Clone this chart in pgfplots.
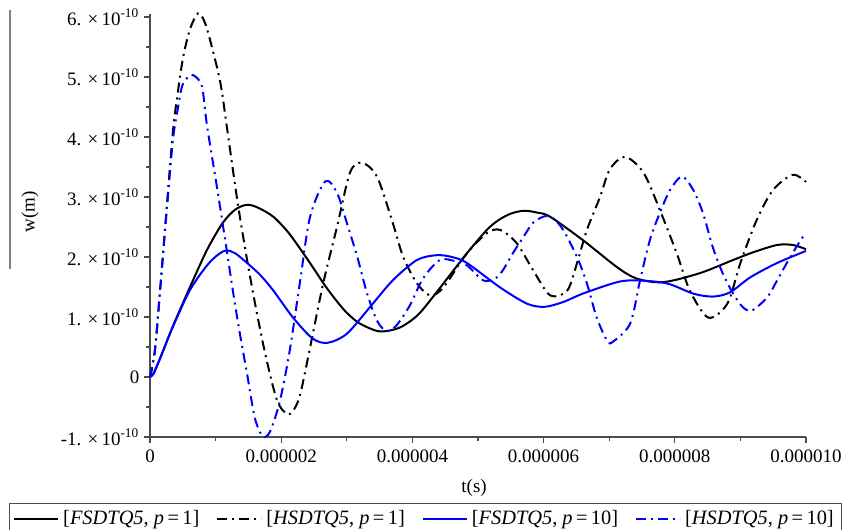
\documentclass[border=0pt]{standalone}
\usepackage{fontspec}
\setmainfont{Liberation Serif}
\usepackage{pgfplots}
\pgfplotsset{compat=1.18}
\definecolor{mblue}{RGB}{0,0,255}
\pgfplotstableread{
t v
0 0
0.05 0.05
0.15 0.30
0.35 0.85
0.61 1.50
0.87 2.12
1.11 2.57
1.30 2.79
1.48 2.87
1.65 2.82
1.88 2.67
2.10 2.42
2.30 2.12
2.50 1.80
2.67 1.52
2.85 1.26
3.00 1.07
3.20 0.89
3.50 0.76
3.80 0.82
4.07 1.02
4.31 1.33
4.83 2.06
5.18 2.50
5.45 2.70
5.69 2.77
5.90 2.74
6.10 2.67
6.60 2.28
7.12 1.83
7.42 1.64
7.82 1.58
8.38 1.73
8.89 1.95
9.20 2.08
9.56 2.20
9.80 2.20
10 2.13
}\fsdtA
\pgfplotstableread{
t v
0 0
0.03 0.15
0.08 0.5
0.15 1.4
0.26 2.9
0.35 4.1
0.41 4.63
0.50 5.30
0.61 5.80
0.73 6.06
0.82 5.95
0.91 5.64
1.07 4.92
1.17 4.18
1.33 2.95
1.48 1.95
1.63 1.06
1.78 0.27
1.94 -0.40
2.09 -0.62
2.19 -0.55
2.29 -0.29
2.44 0.49
2.64 1.56
2.85 2.50
3.05 3.41
3.23 3.57
3.46 3.34
3.70 2.57
3.86 2.00
4.07 1.56
4.27 1.36
4.47 1.49
4.83 2.06
5.14 2.40
5.34 2.45
5.59 2.23
5.84 1.78
6.10 1.36
6.36 1.44
6.51 1.90
6.66 2.45
6.86 3.00
7.01 3.46
7.24 3.67
7.52 3.41
7.77 2.79
8.03 2.06
8.23 1.44
8.51 0.99
8.80 1.22
9.00 1.90
9.25 2.62
9.50 3.12
9.80 3.37
10 3.25
}\hsdtA
\pgfplotstableread{
t v
0 0
0.05 0.05
0.15 0.30
0.35 0.84
0.61 1.45
0.87 1.86
1.05 2.05
1.17 2.11
1.30 2.06
1.48 1.90
1.68 1.70
1.88 1.44
2.18 0.99
2.48 0.64
2.71 0.57
3.00 0.72
3.35 1.16
3.70 1.61
4.07 1.95
4.37 2.03
4.60 2.00
4.83 1.90
5.34 1.49
5.75 1.22
6.02 1.17
6.30 1.25
6.60 1.39
7.12 1.58
7.42 1.61
7.88 1.56
8.28 1.39
8.58 1.34
8.84 1.41
9.15 1.66
9.56 1.90
10 2.10
}\fsdtB
\pgfplotstableread{
t v
0 0
0.03 0.15
0.08 0.49
0.15 1.39
0.26 2.84
0.35 3.96
0.43 4.51
0.49 4.85
0.58 5.00
0.66 5.03
0.79 4.85
0.87 4.18
1.02 3.17
1.17 2.11
1.27 1.39
1.37 0.72
1.48 0.05
1.60 -0.69
1.72 -0.99
1.83 -0.91
1.98 -0.40
2.13 0.44
2.29 1.61
2.44 2.67
2.67 3.26
2.85 3.07
3.00 2.57
3.16 2.00
3.31 1.39
3.46 0.94
3.60 0.77
3.75 0.85
3.96 1.19
4.16 1.64
4.42 1.95
4.65 1.93
4.83 1.86
5.08 1.61
5.26 1.64
5.38 1.78
5.53 2.06
5.69 2.33
5.84 2.57
6.02 2.68
6.14 2.65
6.30 2.45
6.51 2.00
6.66 1.56
6.81 0.99
6.97 0.60
7.06 0.59
7.32 0.89
7.47 1.61
7.62 2.28
7.77 2.73
7.93 3.12
8.11 3.34
8.28 3.12
8.43 2.73
8.58 2.16
8.73 1.73
8.89 1.39
9.04 1.16
9.18 1.11
9.41 1.33
9.56 1.61
9.76 2.00
9.95 2.33
10 2.38
}\hsdtB
\begin{document}
\fontsize{9.5}{11}\selectfont
\begin{tikzpicture}
\begin{axis}[
  scale only axis, width=328pt, height=211.5pt,
  xmin=0, xmax=10, ymin=-1, ymax=6.05,
  axis lines*=left,
  axis line style={black!70, line width=0.7pt},
  tick align=outside,
  tick style={black!70, line width=0.6pt},
  major tick length=3pt, minor tick length=2pt,
  xtick={0,2,4,6,8,10},
  xticklabels={0,0.000002,0.000004,0.000006,0.000008,0.000010},
  minor xtick={1,3,5,7,9},
  ytick={-1,0,1,2,3,4,5,6},
  yticklabels={{-1.\,\,×\,10\textsuperscript{-10}},0,{1.\,\,×\,10\textsuperscript{-10}},{2.\,\,×\,10\textsuperscript{-10}},{3.\,\,×\,10\textsuperscript{-10}},{4.\,\,×\,10\textsuperscript{-10}},{5.\,\,×\,10\textsuperscript{-10}},{6.\,\,×\,10\textsuperscript{-10}}},
  minor ytick={-0.5,0.5,1.5,2.5,3.5,4.5,5.5},
  ticklabel style={font=\fontsize{9.5}{11}\selectfont},
  yticklabel style={xshift=1pt},
  xlabel={t(s)}, ylabel={w(m)},
  xlabel style={at={(rel axis cs:0.494,-0.1206)}, anchor=center},
  ylabel style={at={(rel axis cs:-0.183,0.532)}, anchor=center},
  legend columns=4,
  legend style={at={(rel axis cs:0.42,-0.156)}, anchor=north, draw=black!70, line width=0.6pt,
    inner xsep=2pt, inner ysep=1.5pt, font=\fontsize{10.2}{12}\selectfont,
    /tikz/every even column/.append style={column sep=6.5pt}},
  legend image code/.code={\draw[#1] (0pt,0pt) -- (22pt,0pt);},
  clip=false,
]
\addplot[black, line width=1pt, smooth] table[x=t,y=v] {\fsdtA};
\addlegendentry{[\textit{FSDTQ5}, \textit{p}\,=\,1]}
\addplot[black, line width=1pt, smooth, dash pattern=on 5pt off 2.5pt on 1pt off 2.5pt] table[x=t,y=v] {\hsdtA};
\addlegendentry{[\textit{HSDTQ5}, \textit{p}\,=\,1]}
\addplot[mblue, line width=1pt, smooth] table[x=t,y=v] {\fsdtB};
\addlegendentry{[\textit{FSDTQ5}, \textit{p}\,=\,10]}
\addplot[mblue, line width=1pt, smooth, dash pattern=on 5pt off 2.5pt on 1pt off 2.5pt] table[x=t,y=v] {\hsdtB};
\addlegendentry{[\textit{HSDTQ5}, \textit{p}\,=\,10]}
\draw[black!50, line width=1pt] (rel axis cs:-0.2134,1.0095) -- (rel axis cs:-0.2134,0.397);
\coordinate (bbA) at (rel axis cs:-0.2287,-0.2199);
\coordinate (bbB) at (rel axis cs:1.0549,1.0331);
\end{axis}
\pgfresetboundingbox
\path[use as bounding box] (bbA) rectangle (bbB);
\end{tikzpicture}
\end{document}
